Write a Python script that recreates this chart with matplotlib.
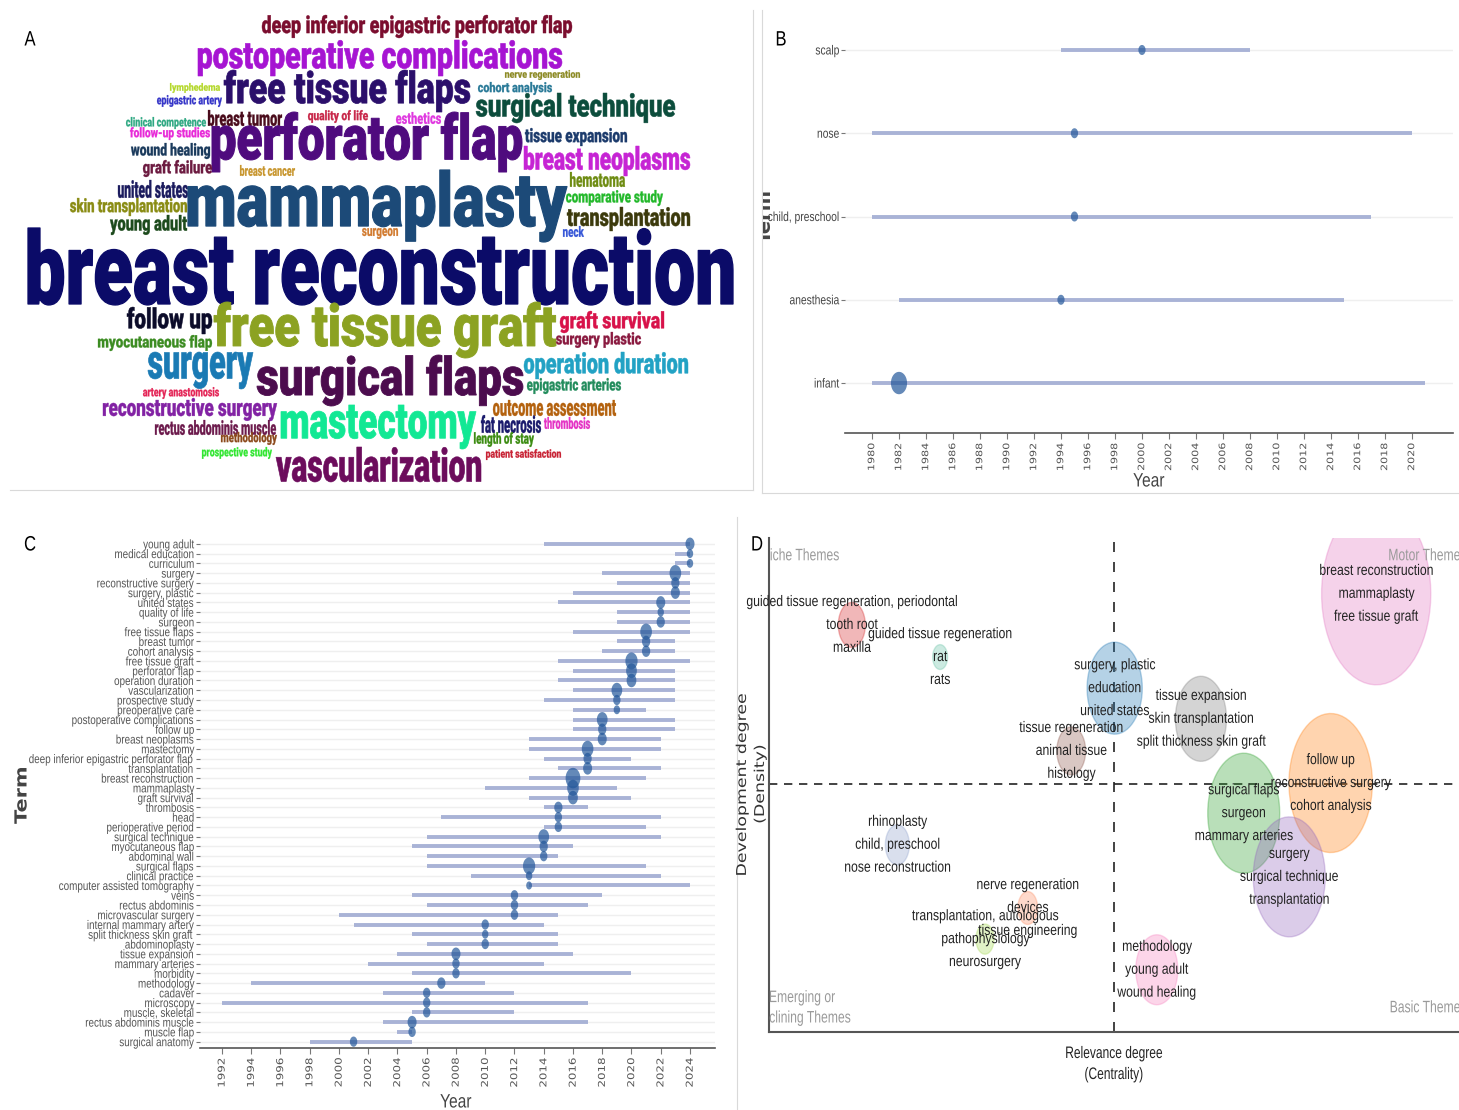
import numpy as np
import matplotlib
matplotlib.use("Agg")
import matplotlib.pyplot as plt
from matplotlib.path import Path
from matplotlib.textpath import TextPath
from matplotlib.font_manager import FontProperties
from matplotlib.patheffects import AbstractPathEffect
from matplotlib.transforms import Affine2D, Bbox, TransformedBbox

# ============================== DATA ==============================
# A: word cloud (word, colour); boxes are only the layout of the cloud (px)
cloud_words = [
    "deep inferior epigastric perforator flap", "postoperative complications", "nerve regeneration",
    "lymphedema", "free tissue flaps", "cohort analysis", "epigastric artery", "surgical technique",
    "breast tumor", "quality of life", "esthetics", "clinical competence", "follow-up studies",
    "perforator flap", "tissue expansion", "wound healing", "breast neoplasms", "graft failure",
    "breast cancer", "hematoma", "united states", "mammaplasty", "comparative study",
    "skin transplantation", "transplantation", "young adult", "surgeon", "neck",
    "breast reconstruction", "follow up", "free tissue graft", "graft survival", "myocutaneous flap",
    "surgery plastic", "surgery", "surgical flaps", "operation duration", "epigastric arteries",
    "artery anastomosis", "reconstructive surgery", "outcome assessment", "mastectomy",
    "rectus abdominis muscle", "fat necrosis", "thrombosis", "methodology", "length of stay",
    "prospective study", "vascularization", "patient satisfaction",
]
cloud_colors = [
    "#7b0d2e", "#a614d2", "#8c8a24", "#b4d82a", "#2b0f6b", "#2a7a98", "#3535c8", "#0c4d3c",
    "#4a0c1c", "#c8284a", "#e038e0", "#2ea882", "#e82ad8", "#4f0b7e", "#1c3b6c", "#1a3a5c",
    "#c624d4", "#6c1a40", "#c8962e", "#6e8c12", "#1b1b5e", "#1c4a78", "#22b82a", "#8a8c14",
    "#3c3a0c", "#1c4a1c", "#d27c32", "#3858d8", "#0b0b68", "#0c0c2a", "#8ca222", "#d8124a",
    "#3c8c22", "#8a1a40", "#1a7ab4", "#4c0c4e", "#22a2c4", "#228c5c", "#e42456", "#8222a4",
    "#b4620e", "#12e894", "#6c1a4c", "#1a1a6c", "#e432c4", "#8c4a1c", "#3c8c12", "#32e632",
    "#6c0c5c", "#c82234",
]
cloud_boxes = [
    (262, 15, 572, 38), (198, 40, 562, 76), (505, 70, 580, 80), (170, 83, 220, 93),
    (224, 70, 470, 112), (478, 82, 552, 95), (157, 95, 222, 107), (476, 93, 675, 123),
    (208, 110, 282, 126), (308, 110, 368, 123), (396, 112, 441, 124), (126, 117, 206, 129),
    (130, 127, 210, 140), (212, 112, 522, 172), (525, 128, 627, 146), (131, 143, 210, 159),
    (524, 146, 690, 176), (143, 160, 212, 177), (240, 165, 295, 176), (570, 172, 625, 187),
    (118, 180, 188, 198), (188, 170, 567, 242), (566, 190, 663, 206), (70, 198, 187, 216),
    (567, 207, 690, 231), (110, 215, 187, 235), (362, 228, 398, 239), (563, 226, 584, 237),
    (28, 228, 733, 305), (127, 307, 212, 334), (214, 302, 556, 358), (560, 311, 664, 333),
    (98, 335, 212, 351), (556, 332, 641, 348), (148, 352, 253, 389), (257, 355, 523, 406),
    (524, 352, 688, 379), (527, 378, 621, 394), (143, 387, 219, 399), (103, 398, 277, 421),
    (493, 400, 616, 416), (281, 405, 476, 449), (155, 420, 276, 435), (481, 415, 541, 433),
    (544, 417, 590, 429), (221, 432, 277, 445), (474, 432, 534, 447), (202, 447, 272, 459),
    (276, 447, 481, 482), (486, 449, 561, 460),
]

# B: trend topics (early period)
b_terms = ["infant", "anesthesia", "child, preschool", "nose", "scalp"]
b_start = [1980, 1982, 1980, 1980, 1994]
b_end = [2021, 2015, 2017, 2020, 2008]
b_median = [1982, 1994, 1995, 1995, 2000]
b_freq = [5, 1, 1, 1, 1]
b_years = list(range(1980, 2021, 2))

# C: trend topics (top to bottom)
c_terms = [
    "young adult", "medical education", "curriculum", "surgery", "reconstructive surgery",
    "surgery, plastic", "united states", "quality of life", "surgeon", "free tissue flaps",
    "breast tumor", "cohort analysis", "free tissue graft", "perforator flap", "operation duration",
    "vascularization", "prospective study", "preoperative care", "postoperative complications",
    "follow up", "breast neoplasms", "mastectomy", "deep inferior epigastric perforator flap",
    "transplantation", "breast reconstruction", "mammaplasty", "graft survival", "thrombosis",
    "head", "perioperative period", "surgical technique", "myocutaneous flap", "abdominal wall",
    "surgical flaps", "clinical practice", "computer assisted tomography", "veins",
    "rectus abdominis", "microvascular surgery", "internal mammary artery",
    "split thickness skin graft", "abdominoplasty", "tissue expansion", "mammary arteries",
    "morbidity", "methodology", "cadaver", "microscopy", "muscle, skeletal",
    "rectus abdominis muscle", "muscle flap", "surgical anatomy",
]
c_start = [2014, 2023, 2023, 2018, 2019, 2016, 2015, 2019, 2019, 2016,
           2019, 2018, 2015, 2016, 2015, 2016, 2014, 2016, 2016, 2016,
           2013, 2013, 2014, 2015, 2013, 2010, 2013, 2014, 2007, 2014,
           2006, 2005, 2006, 2006, 2009, 2013, 2005, 2006, 2000, 2001,
           2005, 2006, 2004, 2002, 2005, 1994, 2003, 1992, 2005, 2003,
           2004, 1998]
c_end = [2024, 2024, 2024, 2024, 2024, 2024, 2024, 2024, 2024, 2024,
         2023, 2023, 2024, 2023, 2023, 2023, 2023, 2021, 2023, 2023,
         2022, 2022, 2020, 2022, 2021, 2019, 2020, 2017, 2022, 2021,
         2022, 2016, 2015, 2021, 2022, 2024, 2018, 2017, 2015, 2014,
         2015, 2015, 2016, 2014, 2020, 2010, 2012, 2017, 2012, 2017,
         2005, 2005]
c_median = [2024, 2024, 2024, 2023, 2023, 2023, 2022, 2022, 2022, 2021,
            2021, 2021, 2020, 2020, 2020, 2019, 2019, 2019, 2018, 2018,
            2018, 2017, 2017, 2017, 2016, 2016, 2016, 2015, 2015, 2015,
            2014, 2014, 2014, 2013, 2013, 2013, 2012, 2012, 2012, 2010,
            2010, 2010, 2008, 2008, 2008, 2007, 2006, 2006, 2006, 2005,
            2005, 2001]
c_freq = [12, 6, 6, 20, 10, 12, 12, 6, 10, 20,
          10, 10, 22, 17, 14, 17, 8, 6, 17, 10,
          12, 20, 10, 12, 32, 20, 14, 10, 8, 8,
          17, 10, 8, 22, 6, 5, 8, 8, 8, 8,
          6, 8, 12, 8, 8, 10, 8, 8, 8, 12,
          8, 8]
c_years = list(range(1992, 2025, 2))

# D: thematic map
d_labels = [
    ("breast reconstruction", "mammaplasty", "free tissue graft"),
    ("guided tissue regeneration, periodontal", "tooth root", "maxilla"),
    ("guided tissue regeneration", "rat", "rats"),
    ("surgery, plastic", "education", "united states"),
    ("tissue regeneration", "animal tissue", "histology"),
    ("tissue expansion", "skin transplantation", "split thickness skin graft"),
    ("follow up", "reconstructive surgery", "cohort analysis"),
    ("surgical flaps", "surgeon", "mammary arteries"),
    ("surgery", "surgical technique", "transplantation"),
    ("rhinoplasty", "child, preschool", "nose reconstruction"),
    ("nerve regeneration", "devices", "tissue engineering"),
    ("transplantation, autologous", "pathophysiology", "neurosurgery"),
    ("methodology", "young adult", "wound healing"),
]
d_centrality = [0.880, 0.120, 0.248, 0.501, 0.438, 0.626, 0.814, 0.688, 0.754, 0.186, 0.375, 0.313, 0.562]
d_density = [0.887, 0.824, 0.759, 0.696, 0.569, 0.634, 0.504, 0.443, 0.314, 0.379, 0.251, 0.188, 0.126]
d_freq = [1717, 105, 32, 439, 119, 375, 1002, 746, 746, 83, 56, 47, 254]
d_colors = ["#e377c2", "#d62728", "#66c2a5", "#1f77b4", "#8c564b", "#7f7f7f", "#ff7f0e",
            "#2ca02c", "#9467bd", "#8da0cb", "#fc8d62", "#a6d854", "#f781bf"]

# ============================== STYLE ==============================
W, H = 1459, 1110
SEG = "#a9b3d6"
PT = "#23579a"
plt.rcParams["font.family"] = ["Liberation Sans", "DejaVu Sans"]


class Squeeze(AbstractPathEffect):
    """Draw text glyphs narrower (condensed look) around a horizontal anchor."""

    def __init__(self, sx, anchor="center", stroke=0.0):
        super().__init__()
        self.sx, self.anchor, self.stroke = sx, anchor, stroke

    def draw_path(self, renderer, gc, tpath, affine, rgbFace=None):
        ext = tpath.get_extents(affine)
        ox = {"left": ext.x0, "center": 0.5 * (ext.x0 + ext.x1), "right": ext.x1}[self.anchor]
        t = affine + Affine2D().translate(-ox, 0).scale(self.sx, 1).translate(ox, 0)
        gc0 = renderer.new_gc()
        gc0.copy_properties(gc)
        if self.stroke and rgbFace is not None:
            gc0.set_linewidth(self.stroke)
            gc0.set_foreground(rgbFace)
        renderer.draw_path(gc0, tpath, t, rgbFace)
        gc0.restore()


def fx(px):
    return px / W


def fy(py):
    return 1 - py / H


def ellipse_marker(ratio):
    t = np.linspace(0, 2 * np.pi, 64)
    return Path(np.column_stack([ratio * np.cos(t), np.sin(t)]))


def squeeze_labels(labels, sx, anchor):
    for lbl in labels:
        lbl.set_path_effects([Squeeze(sx, anchor)])


ELL_C = ellipse_marker(0.72)
ELL_D = ellipse_marker(0.6)

fig = plt.figure(figsize=(W / 100, H / 100), dpi=100)

# overlay in pixel units: word cloud, frames, panel letters
ov = fig.add_axes([0, 0, 1, 1], facecolor="none")
ov.set_xlim(0, W)
ov.set_ylim(H, 0)
ov.axis("off")

cloud_family = ["Roboto", "DejaVu Sans"]
for word, col, (x0, y0, x1, y1) in zip(cloud_words, cloud_colors, cloud_boxes):
    fp = FontProperties(family=cloud_family, weight=900)
    bb = TextPath((0, 0), word, size=100, prop=fp).get_extents()
    fs = (y1 - y0) * 72 / 100 * 100 / bb.height      # font size (pt) giving the box height
    k = fs * 100 / 72 / 100                            # px per TextPath unit
    sx = (x1 - x0) / (bb.width * k)
    fp.set_size(fs)
    ov.text(x0 - bb.x0 * k, y1 + bb.y0 * k, word, fontproperties=fp, color=col,
            ha="left", va="baseline",
            path_effects=[Squeeze(sx, "left", stroke=0.012 * (y1 - y0))])

for xs, ys in [((10, 753), (490, 490)), ((753, 753), (10, 490)), ((762, 762), (10, 493)),
               ((762, W), (493, 493)), ((737, 737), (517, H))]:
    ov.plot(xs, ys, color="#d9d9d9", lw=0.8)

for letter, (px, py) in zip("ABCD", [(30, 40), (781, 40), (30, 545), (757, 545)]):
    fig.text(fx(px), fy(py), letter, fontsize=15, ha="center", va="center",
             path_effects=[Squeeze(0.8, "center")])

# ---------------------------- B ----------------------------
ax_b = fig.add_axes([fx(845), fy(433), (1453 - 845) / W, (433 - 15) / H])
yb = np.arange(len(b_terms))
ax_b.hlines(yb, b_start, b_end, color=SEG, lw=2.8, zorder=2)
ax_b.scatter(b_median, yb, s=np.array(b_freq) * 52, marker=ELL_C, color=PT, alpha=0.7,
             linewidths=0, zorder=3)
ax_b.set_xlim(1978, 2023.04)
ax_b.set_ylim(-0.6, 4.42)
ax_b.set_xticks(b_years)
ax_b.set_xticklabels([str(y) for y in b_years], rotation=90, fontsize=8, color="#555555",
                     family="DejaVu Sans")
ax_b.set_yticks(yb)
ax_b.set_yticklabels(b_terms, fontsize=9.5, color="#444444")
squeeze_labels(ax_b.get_yticklabels(), 0.78, "right")
squeeze_labels(ax_b.get_xticklabels(), 0.8, "center")
ax_b.tick_params(axis="y", length=3, color="#777777", pad=1)
ax_b.tick_params(axis="x", length=4, color="#777777", pad=3)
ax_b.grid(axis="y", color="#efefef", lw=1)
ax_b.set_axisbelow(True)
for s in ["top", "right", "left"]:
    ax_b.spines[s].set_visible(False)
ax_b.spines["bottom"].set_color("#555555")
ax_b.spines["bottom"].set_linewidth(1.2)
fig.text(fx(1149), fy(482), "Year", fontsize=14, color="#444444", ha="center", va="center",
         path_effects=[Squeeze(0.8, "center")])
tb = fig.text(fx(765), fy(216), "Term", rotation=90, fontsize=14, fontweight="bold",
              color="#444444", ha="center", va="center", family="DejaVu Sans")
tb.set_clip_box(TransformedBbox(Bbox([[fx(763), 0], [1, 1]]), fig.transFigure))
tb.set_clip_on(True)

# ---------------------------- C ----------------------------
ax_c = fig.add_axes([fx(200), fy(1048), (715 - 200) / W, (1048 - 537) / H])
yc = np.arange(len(c_terms))[::-1]
ax_c.hlines(yc, c_start, c_end, color=SEG, lw=2.8, zorder=2)
ax_c.scatter(c_median, yc, s=np.array(c_freq) * 6.8, marker=ELL_C, color=PT, alpha=0.7,
             linewidths=0, zorder=3)
ax_c.set_xlim(1990.5, 2025.71)
ax_c.set_ylim(-0.65, len(c_terms) - 0.3)
ax_c.set_xticks(c_years)
ax_c.set_xticklabels([str(y) for y in c_years], rotation=90, fontsize=8.5, color="#555555",
                     family="DejaVu Sans")
ax_c.set_yticks(yc)
ax_c.set_yticklabels(c_terms, fontsize=9, color="#555555")
squeeze_labels(ax_c.get_yticklabels(), 0.79, "right")
squeeze_labels(ax_c.get_xticklabels(), 0.8, "center")
ax_c.tick_params(axis="y", length=3, color="#777777", pad=1)
ax_c.tick_params(axis="x", length=4, color="#777777", pad=3)
ax_c.grid(axis="y", color="#efefef", lw=1)
ax_c.set_axisbelow(True)
for s in ["top", "right", "left"]:
    ax_c.spines[s].set_visible(False)
ax_c.spines["bottom"].set_color("#555555")
ax_c.spines["bottom"].set_linewidth(1.2)
fig.text(fx(456), fy(1103), "Year", fontsize=14, color="#444444", ha="center", va="center",
         path_effects=[Squeeze(0.8, "center")])
fig.text(fx(22), fy(795), "Term", rotation=90, fontsize=15, fontweight="bold", color="#444444",
         ha="center", va="center", family="DejaVu Sans",
         path_effects=[Squeeze(0.8, "center")])

# ---------------------------- D ----------------------------
ax_d = fig.add_axes([fx(769), fy(1032), (W - 769) / W, (1032 - 538) / H])
ax_d.set_xlim(0, 1)
ax_d.set_ylim(0, 1)
ax_d.axvline(0.5, color="#222222", lw=1.2, ls=(0, (6, 6)), zorder=1)
ax_d.axhline(0.502, color="#222222", lw=1.2, ls=(0, (5, 4)), zorder=1)
ax_d.scatter(d_centrality, d_density, s=np.array(d_freq) * 10, marker=ELL_D, c=d_colors,
             alpha=0.33, edgecolors=d_colors, linewidths=1, zorder=2)
for cx, cy, lines in zip(d_centrality, d_density, d_labels):
    for dy, line in zip((16.5, 0, -16.5), lines):
        ann = ax_d.annotate(line, (cx, cy), xytext=(0, dy), textcoords="offset points",
                            ha="center", va="center", fontsize=11, color="#222222",
                            zorder=3, annotation_clip=False,
                            path_effects=[Squeeze(0.8, "center")])
        ann.set_clip_on(True)
qkw = dict(fontsize=12, color="#9a9a9a", clip_on=True, va="center")
ax_d.text(-0.012, 0.964, "Niche Themes", ha="left", path_effects=[Squeeze(0.73, "left")], **qkw)
ax_d.text(0.897, 0.964, "Motor Themes", ha="left", path_effects=[Squeeze(0.73, "left")], **qkw)
ax_d.text(0.048, 0.049, "Emerging or\nDeclining Themes", ha="center", multialignment="center",
          linespacing=1.45, path_effects=[Squeeze(0.73, "center")], **qkw)
ax_d.text(0.899, 0.049, "Basic Themes", ha="left", path_effects=[Squeeze(0.73, "left")], **qkw)
ax_d.set_xticks([])
ax_d.set_yticks([])
for s in ["top", "right"]:
    ax_d.spines[s].set_visible(False)
for s in ["left", "bottom"]:
    ax_d.spines[s].set_color("#555555")
    ax_d.spines[s].set_linewidth(1.5)
fig.text(fx(1114), fy(1064), "Relevance degree\n(Centrality)", ha="center", va="center",
         fontsize=12, color="#222222", linespacing=1.5, path_effects=[Squeeze(0.72, "center")])
fig.text(fx(751), fy(784), "Development degree\n(Density)", rotation=90, ha="center",
         va="center", fontsize=12.5, color="#333333", linespacing=1.0, family="DejaVu Sans",
         path_effects=[Squeeze(0.78, "center")])

fig.savefig("out.png", dpi=100)
